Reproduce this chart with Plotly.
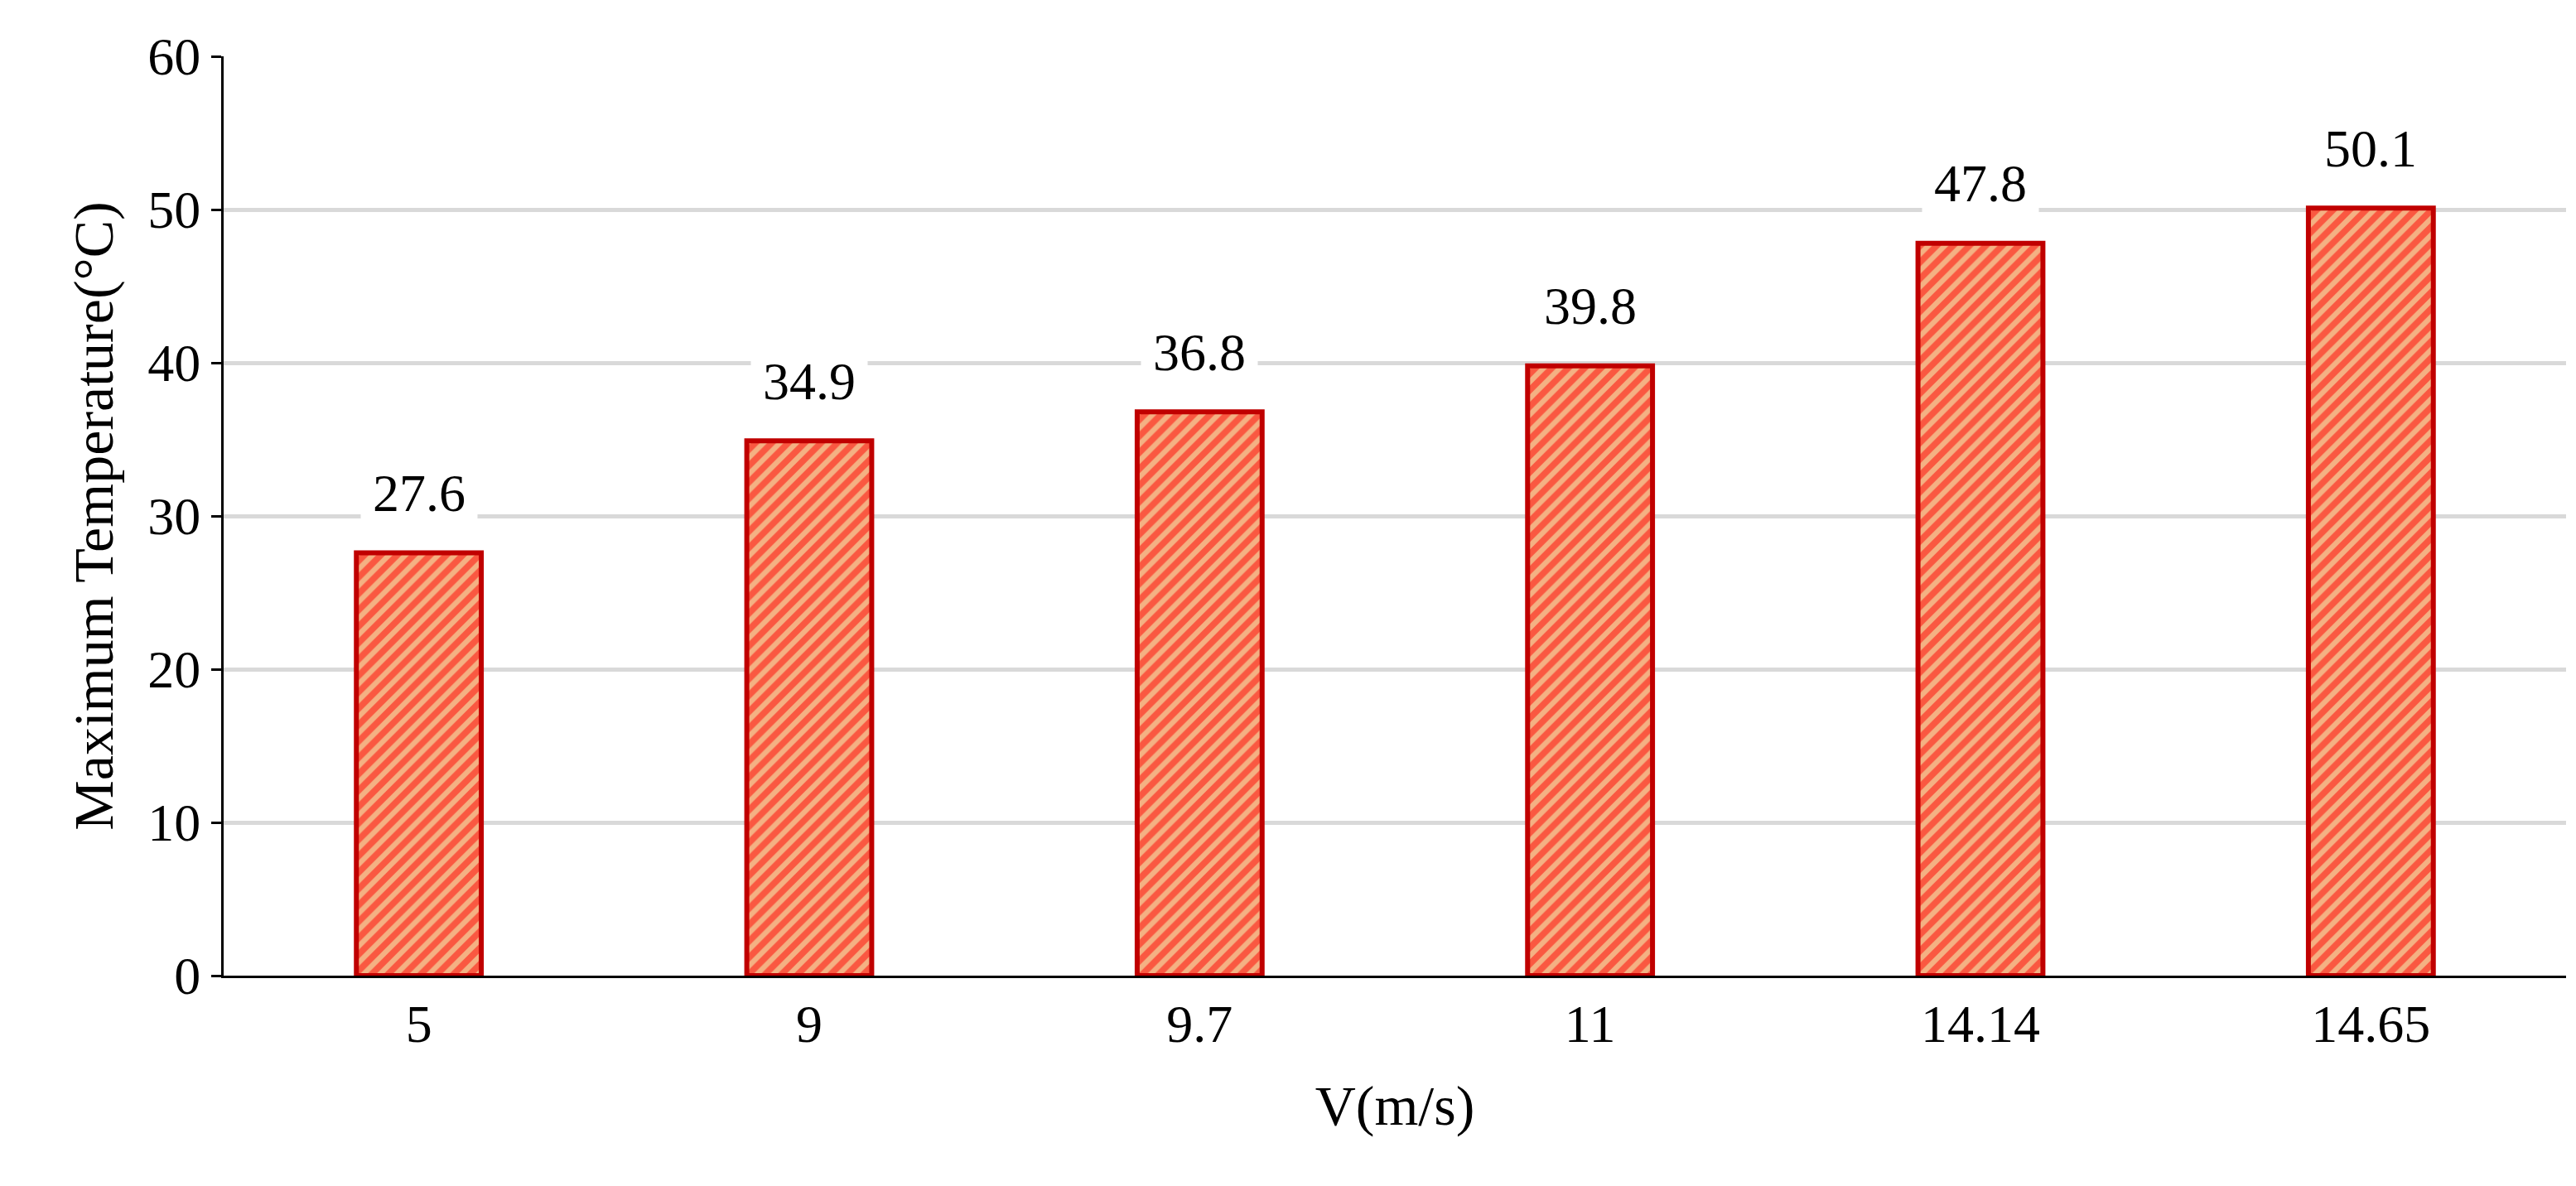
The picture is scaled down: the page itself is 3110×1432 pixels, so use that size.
import plotly.graph_objects as go

categories = ["5", "9", "9.7", "11", "14.14", "14.65"]
values = [27.6, 34.9, 36.8, 39.8, 47.8, 50.1]
labels = ["27.6", "34.9", "36.8", "39.8", "47.8", "50.1"]

font = "Liberation Serif"
fig = go.Figure(go.Bar(
    x=categories, y=values,
    marker=dict(color="#F4B183", line=dict(color="#C00000", width=6),
                pattern=dict(shape="/", fgcolor="#FF0000", bgcolor="#F4B183",
                             size=14, solidity=0.55, fillmode="overlay")),
))
for i, (v, t) in enumerate(zip(values, labels)):
    fig.add_annotation(x=i, y=v, xref="x", yref="y", text=t, showarrow=False, yshift=72,
                       bgcolor="white", borderpad=14,
                       font=dict(family=font, size=64, color="black"))

fig.update_layout(
    width=3110, height=1432, plot_bgcolor="white", paper_bgcolor="white",
    bargap=0.68, showlegend=False,
    margin=dict(l=262, r=20, t=60, b=262),
    font=dict(family=font, size=64, color="black"),
)
fig.update_xaxes(type="category",
                 title=dict(text="V(m/s)", font=dict(size=68), standoff=40),
                 showline=True, linecolor="black", linewidth=3,
                 ticks="outside", ticklen=0, tickfont=dict(size=64))
fig.update_yaxes(title=dict(text="Maximum Temperature(°C)", font=dict(size=68), standoff=20),
                 range=[0, 60], dtick=10, showgrid=True, gridcolor="#D9D9D9", gridwidth=5,
                 showline=True, linecolor="black", linewidth=3,
                 ticks="outside", ticklen=12, tickwidth=3, tickcolor="black",
                 tickfont=dict(size=64), zeroline=False)
fig.write_html("out.html")
